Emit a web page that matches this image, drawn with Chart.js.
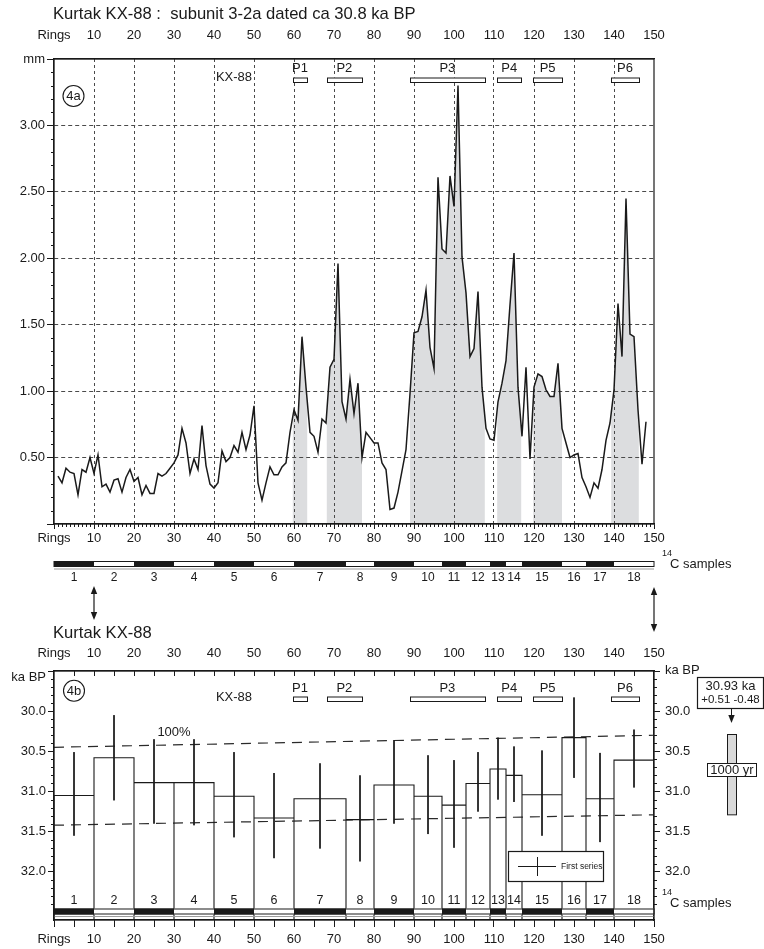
<!DOCTYPE html>
<html>
<head>
<meta charset="utf-8">
<title>Kurtak KX-88</title>
<script src="https://cdn.jsdelivr.net/npm/chart.js@4.4.1/dist/chart.umd.min.js"></script>
<style>
  html, body { margin: 0; padding: 0; background: #ffffff; }
  #page { position: relative; width: 764px; height: 949px; overflow: hidden; background: #ffffff; }
  canvas { position: absolute; left: 0; }
  #ringChart { top: 0; }
  #dateChart { top: 600px; }
</style>
</head>
<body>
<div id="page">
  <canvas id="ringChart" width="764" height="645"></canvas>
  <canvas id="dateChart" width="764" height="349"></canvas>
</div>
<script>
const FONT = "'Liberation Sans', Arial, Helvetica, sans-serif";
Chart.defaults.font.family = FONT;
Chart.defaults.font.size = 13;
Chart.defaults.color = '#1a1a1a';

const INK = '#1a1a1a';
const GRID = '#4a4a4a';
const SHADE = '#dcdddf';
const CLEAR = 'rgba(0,0,0,0)';

// ---------- 4a: ring widths (mm) ----------
const ringNumbers = Array.from({ length: 148 }, (_, i) => i + 1);
const ringWidthMm = [
  0.36, 0.31, 0.42, 0.39, 0.38, 0.22, 0.41, 0.39, 0.50, 0.38,
  0.52, 0.28, 0.30, 0.24, 0.33, 0.34, 0.24, 0.35, 0.41, 0.32,
  0.35, 0.22, 0.29, 0.23, 0.23, 0.38, 0.36, 0.38, 0.42, 0.46,
  0.52, 0.72, 0.61, 0.38, 0.49, 0.41, 0.74, 0.44, 0.30, 0.27,
  0.31, 0.55, 0.47, 0.50, 0.59, 0.54, 0.69, 0.56, 0.67, 0.89,
  0.31, 0.18, 0.31, 0.43, 0.37, 0.37, 0.43, 0.46, 0.69, 0.86,
  0.78, 1.41, 1.03, 0.69, 0.66, 0.54, 0.79, 0.76, 1.18, 1.24,
  1.96, 0.92, 0.79, 1.09, 0.83, 1.06, 0.50, 0.69, 0.65, 0.61,
  0.61, 0.46, 0.41, 0.11, 0.12, 0.24, 0.40, 0.56, 0.98, 1.44,
  1.45, 1.56, 1.76, 1.33, 1.17, 2.61, 2.07, 2.04, 2.62, 2.39,
  3.30, 2.01, 1.74, 1.26, 1.32, 1.75, 1.03, 0.72, 0.64, 0.63,
  0.92, 1.06, 1.23, 1.65, 2.04, 1.03, 0.66, 1.18, 0.49, 1.03,
  1.13, 1.11, 1.01, 0.96, 0.96, 1.21, 0.72, 0.61, 0.50, 0.52,
  0.53, 0.35, 0.28, 0.20, 0.31, 0.27, 0.41, 0.63, 0.76, 1.01,
  1.66, 1.26, 2.45, 1.43, 1.41, 0.86, 0.45, 0.77
];

// growth periods P1..P6 (ring ranges)
const periodNames = ['P1', 'P2', 'P3', 'P4', 'P5', 'P6'];
const periodFrom  = [59.7, 68.2, 89.0, 110.8, 119.8, 139.3];
const periodTo    = [63.3, 77.0, 107.7, 116.8, 127.0, 146.2];

// ---------- 14C samples ----------
const sampleLabels = ['1','2','3','4','5','6','7','8','9','10','11','12','13','14','15','16','17','18'];
const sampleFrom   = [0, 10, 20, 30, 40, 50, 60, 73, 80, 90, 97, 103, 109, 113, 117, 127, 133, 140];
const sampleTo     = [10, 20, 30, 40, 50, 60, 73, 80, 90, 97, 103, 109, 113, 117, 127, 133, 140, 150];

// ---------- 4b: sample ages (ka BP) ----------
const sampleAgeKa  = [31.05, 30.58, 30.89, 30.89, 31.06, 31.33, 31.09, 31.35, 30.92, 31.06, 31.17, 30.90, 30.72, 30.80, 31.04, 30.33, 31.09, 30.61];
const sampleYoung  = [30.51, 30.05, 30.35, 30.35, 30.51, 30.77, 30.65, 30.80, 30.36, 30.55, 30.61, 30.51, 30.33, 30.44, 30.49, 29.83, 30.52, 30.23];
const sampleOld    = [31.55, 31.11, 31.40, 31.42, 31.57, 31.83, 31.71, 31.87, 31.40, 31.53, 31.70, 31.25, 31.10, 31.13, 31.55, 30.83, 31.63, 30.95];

// 100% envelope (dashed)
const envelopeRings = [0, 150];
const envelopeUpper = [30.45, 30.30];
const envelopeLower = [31.42, 31.29];

// fit result box
const fitAgeText = '30.93 ka';
const fitErrText = '+0.51 -0.48';
const scaleBarKa = 1.0;
const scaleBarText = '1000 yr';

// ---------- helpers ----------
const crisp = v => Math.round(v) + 0.5;
function seg(ctx, x1, y1, x2, y2) { ctx.beginPath(); ctx.moveTo(x1, y1); ctx.lineTo(x2, y2); ctx.stroke(); }
function label(ctx, s, x, y, size, align = 'center', baseline = 'middle') {
  ctx.font = size + 'px ' + FONT; ctx.textAlign = align; ctx.textBaseline = baseline; ctx.fillText(s, x, y);
}
function arrowHead(ctx, x, y, dir) {
  ctx.beginPath(); ctx.moveTo(x, y); ctx.lineTo(x - 3.2, y - dir * 8); ctx.lineTo(x + 3.2, y - dir * 8); ctx.closePath(); ctx.fill();
}
function periodBoxes(ctx, x, top, labelY, boxY) {
  ctx.lineWidth = 1; ctx.strokeStyle = INK; ctx.fillStyle = INK;
  periodNames.forEach((n, i) => {
    const xs = x.getPixelForValue(periodFrom[i]), xe = x.getPixelForValue(periodTo[i]);
    ctx.fillStyle = '#fff'; ctx.fillRect(xs, top + boxY, xe - xs, 4.5);
    ctx.strokeRect(crisp(xs), top + boxY + 0.5, Math.round(xe - xs), 4.5);
    ctx.fillStyle = INK; label(ctx, n, (xs + xe) / 2, top + labelY, 13);
  });
}
function sampleBar(ctx, x, y0, h) {
  const x0 = x.getPixelForValue(sampleFrom[0]), x1 = x.getPixelForValue(sampleTo[sampleTo.length - 1]);
  sampleFrom.forEach((s, i) => {
    const xs = x.getPixelForValue(s), xe = x.getPixelForValue(sampleTo[i]);
    ctx.fillStyle = i % 2 === 0 ? INK : '#ffffff';
    ctx.fillRect(xs, y0, xe - xs, h);
  });
  ctx.strokeStyle = INK; ctx.lineWidth = 1;
  ctx.strokeRect(x0, y0 + 0.5, x1 - x0, h - 1);
  ctx.strokeStyle = '#9c9c9c'; ctx.lineWidth = 1.2;
  seg(ctx, x0, y0 + h + 2, x1, y0 + h + 2);
}
function circled(ctx, s, cx, cy) {
  ctx.strokeStyle = INK; ctx.lineWidth = 1.1;
  ctx.beginPath(); ctx.arc(cx, cy, 10.5, 0, Math.PI * 2); ctx.stroke();
  ctx.fillStyle = INK; label(ctx, s, cx, cy + 0.5, 13);
}
function fourteenC(ctx, x, y) {
  ctx.fillStyle = INK;
  label(ctx, '14', x, y - 10, 9, 'left');
  label(ctx, 'C samples', x + 8, y, 13, 'left');
}

// ---------- 4a chart ----------
const ringDecor = {
  id: 'ringDecor',
  beforeDraw(chart) {
    // shaded periods under the ring-width curve
    const { ctx, chartArea: a, scales: { x, y } } = chart;
    periodFrom.forEach((s, i) => {
      const xs = x.getPixelForValue(s), xe = x.getPixelForValue(periodTo[i]);
      ctx.save();
      ctx.beginPath(); ctx.rect(xs, a.top, xe - xs, a.bottom - a.top); ctx.clip();
      ctx.beginPath();
      ctx.moveTo(x.getPixelForValue(ringNumbers[0]), y.getPixelForValue(0));
      ringNumbers.forEach((r, k) => ctx.lineTo(x.getPixelForValue(r), y.getPixelForValue(ringWidthMm[k])));
      ctx.lineTo(x.getPixelForValue(ringNumbers[ringNumbers.length - 1]), y.getPixelForValue(0));
      ctx.closePath();
      ctx.fillStyle = SHADE; ctx.fill();
      ctx.restore();
    });
  },
  afterDraw(chart) {
    const { ctx, chartArea: a, scales: { x, y } } = chart;
    ctx.save();
    ctx.strokeStyle = INK; ctx.lineWidth = 1.2;
    ctx.strokeRect(a.left, a.top, a.right - a.left, a.bottom - a.top);
    ctx.lineWidth = 1;
    for (let r = 1; r < 150; r++) {
      if (r % 10 === 0) continue;
      const px = crisp(x.getPixelForValue(r));
      seg(ctx, px, a.bottom, px, a.bottom + 3);
    }
    for (let k = 1; k < 35; k++) {
      if (k % 5 === 0) continue;
      const py = crisp(y.getPixelForValue(k / 10));
      seg(ctx, a.left - 3, py, a.left, py);
    }
    periodBoxes(ctx, x, a.top, 9, 18.5);
    ctx.fillStyle = INK;
    label(ctx, 'KX-88', x.getPixelForValue(45), a.top + 18, 13);
    circled(ctx, '4a', a.left + 19.5, a.top + 37);

    // sample strip below the ring axis
    const barTop = a.bottom + 37;
    sampleBar(ctx, x, barTop, 6);
    ctx.fillStyle = INK;
    sampleLabels.forEach((s, i) => label(ctx, s, x.getPixelForValue((sampleFrom[i] + sampleTo[i]) / 2), barTop + 17, 12));
    fourteenC(ctx, x.getPixelForValue(150) + 8, barTop + 3);

    // link arrows to 4b
    ctx.strokeStyle = INK; ctx.fillStyle = INK; ctx.lineWidth = 1.2;
    [[10, 62, 96], [150, 63, 108]].forEach(([r, t, b]) => {
      const px = x.getPixelForValue(r);
      seg(ctx, px, a.bottom + t + 6, px, a.bottom + b - 6);
      arrowHead(ctx, px, a.bottom + t, -1);
      arrowHead(ctx, px, a.bottom + b, 1);
    });

    ctx.fillStyle = INK;
    label(ctx, 'Kurtak KX-88 :  subunit 3-2a dated ca 30.8 ka BP', a.left - 1, 14, 16.6, 'left');
    ctx.restore();
  }
};

new Chart(document.getElementById('ringChart'), {
  type: 'line',
  data: {
    datasets: [{
      data: ringNumbers.map((r, i) => ({ x: r, y: ringWidthMm[i] })),
      borderColor: INK, borderWidth: 1.5, pointRadius: 0, tension: 0, fill: false
    }]
  },
  options: {
    responsive: false, animation: false, events: [],
    layout: { padding: { left: 0, right: 110, top: 0, bottom: 0 } },
    plugins: { legend: { display: false }, tooltip: { enabled: false } },
    scales: {
      x: {
        type: 'linear', position: 'bottom', min: 0, max: 150,
        afterFit: s => { s.height = 121; },
        ticks: { stepSize: 10, autoSkip: false, maxRotation: 0, minRotation: 0, padding: 2,
                 callback: v => v === 0 ? 'Rings' : String(v) },
        grid: { color: c => (c.tick && c.tick.value > 0 && c.tick.value < 150) ? GRID : CLEAR,
                lineWidth: 1, tickLength: 5, tickColor: INK },
        border: { color: INK, width: 1.2, dash: [3, 3] }
      },
      xTop: {
        type: 'linear', position: 'top', min: 0, max: 150,
        afterFit: s => { s.height = 59; },
        ticks: { stepSize: 10, autoSkip: false, maxRotation: 0, minRotation: 0, padding: 8.2,
                 callback: v => v === 0 ? 'Rings' : String(v) },
        grid: { display: false },
        border: { display: true, color: INK, width: 1.2 }
      },
      y: {
        type: 'linear', position: 'left', min: 0, max: 3.5,
        afterFit: s => { s.width = 54; },
        ticks: { stepSize: 0.5, padding: 2,
                 callback: v => v === 0 ? '' : (Math.abs(v - 3.5) < 1e-6 ? 'mm' : v.toFixed(2)) },
        grid: { color: c => (c.tick && c.tick.value > 0 && c.tick.value < 3.5) ? GRID : CLEAR,
                lineWidth: 1, tickLength: 7, tickColor: INK },
        border: { color: INK, width: 1.2, dash: [4, 3] }
      }
    }
  },
  plugins: [ringDecor]
});

// ---------- 4b chart ----------
const Y_MIN = 29.5, Y_MAX = 32.6;

const boxPoints = [];
sampleAgeKa.forEach((v, i) => {
  boxPoints.push({ x: sampleFrom[i], y: Y_MAX }, { x: sampleFrom[i], y: v },
                 { x: sampleTo[i], y: v }, { x: sampleTo[i], y: Y_MAX }, { x: sampleTo[i], y: null });
});
const errPoints = [];
sampleAgeKa.forEach((v, i) => {
  const c = (sampleFrom[i] + sampleTo[i]) / 2;
  errPoints.push({ x: c, y: sampleYoung[i] }, { x: c, y: sampleOld[i] }, { x: c, y: null });
});

const dateDecor = {
  id: 'dateDecor',
  afterDatasetsDraw(chart) {
    const { ctx, chartArea: a, scales: { x } } = chart;
    ctx.save();
    // sample strip along the bottom of the plot
    const barTop = a.bottom - 11.5;
    sampleBar(ctx, x, barTop, 6);
    ctx.fillStyle = INK;
    sampleLabels.forEach((s, i) => label(ctx, s, x.getPixelForValue((sampleFrom[i] + sampleTo[i]) / 2), barTop - 7.5, 12.5));
    ctx.restore();
  },
  afterDraw(chart) {
    const { ctx, chartArea: a, scales: { x, y } } = chart;
    ctx.save();
    ctx.strokeStyle = INK; ctx.lineWidth = 1.2;
    ctx.strokeRect(a.left, a.top, a.right - a.left, a.bottom - a.top);
    ctx.lineWidth = 1;
    // inward ticks on the top ring axis
    for (let r = 5; r < 150; r += 5) {
      const px = crisp(x.getPixelForValue(r));
      seg(ctx, px, a.top, px, a.top + 5);
    }
    // minor age ticks on both sides
    for (let k = 296; k <= 325; k++) {
      if (k % 5 === 0) continue;
      const py = crisp(y.getPixelForValue(k / 10));
      seg(ctx, a.left - 3, py, a.left, py);
      seg(ctx, a.right, py, a.right + 3, py);
    }
    periodBoxes(ctx, x, a.top, 17, 25.5);
    ctx.fillStyle = INK;
    label(ctx, 'KX-88', x.getPixelForValue(45), a.top + 26, 13);
    circled(ctx, '4b', a.left + 20, a.top + 19.7);
    label(ctx, '100%', x.getPixelForValue(30), y.getPixelForValue(30.27), 13);
    label(ctx, 'ka BP', a.left - 8, a.top + 6, 13, 'right');
    label(ctx, 'ka BP', a.right + 11, a.top - 1, 13, 'left');
    label(ctx, 'Kurtak KX-88', a.left - 1, 33, 16.6, 'left');
    fourteenC(ctx, a.right + 8, a.bottom - 17);

    // legend
    const lx = 508, ly = 251, lw = 95, lh = 30;
    ctx.fillStyle = '#fff'; ctx.fillRect(lx, ly, lw, lh);
    ctx.strokeStyle = INK; ctx.lineWidth = 1.2; ctx.strokeRect(lx + 0.5, ly + 0.5, lw, lh);
    ctx.lineWidth = 1;
    seg(ctx, lx + 10, ly + 15.5, lx + 48, ly + 15.5);
    seg(ctx, lx + 29.5, ly + 6, lx + 29.5, ly + 25);
    ctx.fillStyle = INK; label(ctx, 'First series', lx + 53, ly + 15.5, 8.5, 'left');

    // fit result and 1000-yr scale bar
    const bx = 697, by = 77, bw = 66, bh = 31;
    ctx.fillStyle = '#fff'; ctx.fillRect(bx, by, bw, bh);
    ctx.strokeStyle = INK; ctx.lineWidth = 1.2; ctx.strokeRect(bx + 0.5, by + 0.5, bw, bh);
    ctx.fillStyle = INK;
    label(ctx, fitAgeText, bx + bw / 2 + 0.5, by + 9.5, 13);
    label(ctx, fitErrText, bx + bw / 2 + 0.5, by + 23, 11.5);
    const ax = 731.5;
    ctx.lineWidth = 1;
    seg(ctx, ax, by + bh, ax, by + bh + 9);
    arrowHead(ctx, ax, by + bh + 15, 1);
    const barPx = y.getPixelForValue(30 + scaleBarKa) - y.getPixelForValue(30);
    ctx.fillStyle = '#d9d9d9'; ctx.fillRect(727.5, 134, 9, barPx);
    ctx.strokeStyle = INK; ctx.strokeRect(727.5, 134.5, 9, barPx);
    ctx.fillStyle = '#fff'; ctx.fillRect(707, 163, 49, 13);
    ctx.strokeRect(707.5, 163.5, 49, 13);
    ctx.fillStyle = INK; label(ctx, scaleBarText, 732, 170.5, 13);
    ctx.restore();
  }
};

new Chart(document.getElementById('dateChart'), {
  type: 'line',
  data: {
    datasets: [
      { data: boxPoints, borderColor: INK, borderWidth: 1.1, pointRadius: 0, spanGaps: false, tension: 0 },
      { data: errPoints, borderColor: INK, borderWidth: 1, pointRadius: 0, spanGaps: false, tension: 0 },
      { data: envelopeRings.map((r, i) => ({ x: r, y: envelopeUpper[i] })), borderColor: '#2a2a2a', borderWidth: 1.2, borderDash: [10, 7], pointRadius: 0 },
      { data: envelopeRings.map((r, i) => ({ x: r, y: envelopeLower[i] })), borderColor: '#2a2a2a', borderWidth: 1.2, borderDash: [10, 7], pointRadius: 0 }
    ]
  },
  options: {
    responsive: false, animation: false, events: [],
    layout: { padding: { left: 0, right: 0, top: 0, bottom: 0 } },
    plugins: { legend: { display: false }, tooltip: { enabled: false } },
    scales: {
      x: {
        type: 'linear', position: 'bottom', min: 0, max: 150,
        afterFit: s => { s.height = 29; },
        ticks: { stepSize: 5, autoSkip: false, maxRotation: 0, minRotation: 0, padding: 5,
                 callback: v => v === 0 ? 'Rings' : (v % 10 === 0 ? String(v) : '') },
        grid: { drawOnChartArea: false, tickLength: 7, tickColor: INK },
        border: { color: INK, width: 1.2 }
      },
      xTop: {
        type: 'linear', position: 'top', min: 0, max: 150,
        afterFit: s => { s.height = 71; },
        ticks: { stepSize: 10, autoSkip: false, maxRotation: 0, minRotation: 0, padding: 1.5,
                 callback: v => v === 0 ? 'Rings' : String(v) },
        grid: { display: false },
        border: { display: true, color: INK, width: 1.2 }
      },
      y: {
        type: 'linear', position: 'left', reverse: true, min: Y_MIN, max: Y_MAX,
        afterFit: s => { s.width = 54; },
        ticks: { stepSize: 0.5, padding: 2,
                 callback: v => (v >= 30 && v <= 32.01) ? v.toFixed(1) : '' },
        grid: { drawOnChartArea: false, tickLength: 6,
                tickColor: c => (c.tick && Math.abs(c.tick.value * 2 - Math.round(c.tick.value * 2)) < 1e-6) ? INK : CLEAR },
        border: { color: INK, width: 1.2 }
      },
      yRight: {
        type: 'linear', position: 'right', reverse: true, min: Y_MIN, max: Y_MAX,
        afterFit: s => { s.width = 110; },
        ticks: { stepSize: 0.5, padding: 5,
                 callback: v => (v >= 30 && v <= 32.01) ? v.toFixed(1) : '' },
        grid: { drawOnChartArea: false, tickLength: 6,
                tickColor: c => (c.tick && Math.abs(c.tick.value * 2 - Math.round(c.tick.value * 2)) < 1e-6) ? INK : CLEAR },
        border: { color: INK, width: 1.2 }
      }
    }
  },
  plugins: [dateDecor]
});
</script>
</body>
</html>
